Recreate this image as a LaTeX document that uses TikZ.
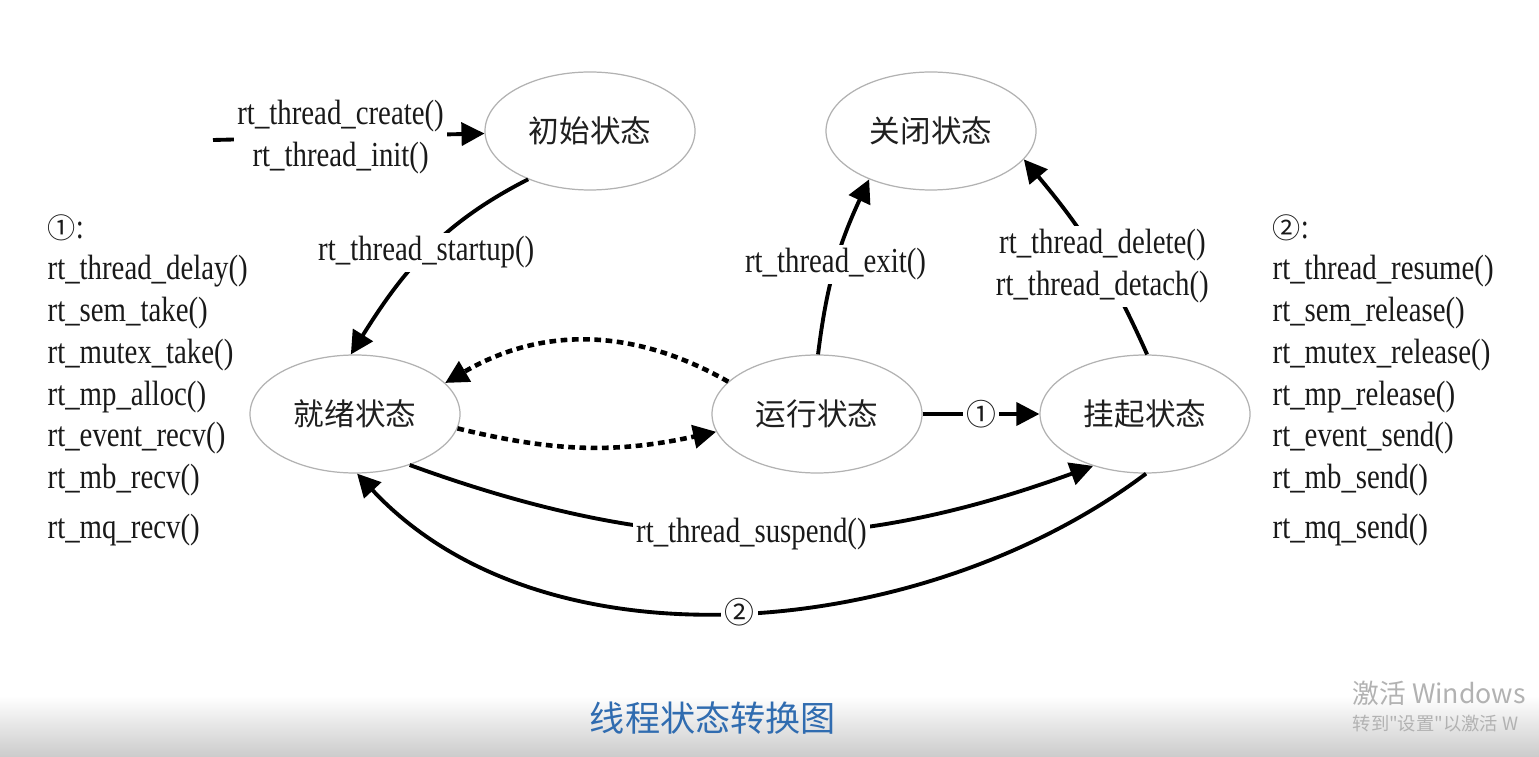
\documentclass[tikz,border=0pt]{standalone}
\usepackage{fontspec}
\setmainfont{Liberation Serif}[FakeStretch=0.82]
\newfontfamily\cjk{Noto Sans CJK SC}
\usetikzlibrary{shapes.geometric,arrows.meta}
\definecolor{titleblue}{RGB}{48,108,176}

\begin{document}
\begin{tikzpicture}[
  state/.style={ellipse, draw=gray!60, line width=0.35pt, minimum width=2.1cm,
    minimum height=1.18cm, inner sep=0pt, text=black!88, font=\cjk\fontsize{8.7}{10}\selectfont},
  arr/.style={-{Triangle[length=2.3mm,width=2.3mm]}, line width=1.1pt},
  dotarr/.style={arr, line width=1.3pt, dash pattern=on 1.9pt off 1.3pt},
  lbl/.style={fill=white, inner sep=1pt, align=center, text=black!90, font=\fontsize{10}{12}\selectfont},
  fn/.style={anchor=west, inner sep=0pt, text=black!90, font=\fontsize{10}{12}\selectfont},
  circnum/.style={font=\cjk\fontsize{8.5}{10}\selectfont}
]
  \useasboundingbox[fill=white] (0,0) rectangle (15.39,7.56);
  \shade[top color=white, bottom color=black!20] (0,0) rectangle (15.39,0.6);

  % states
  \node[state] (init)   at (5.90,6.25) {初始状态};
  \node[state] (closed) at (9.31,6.25) {关闭状态};
  \node[state] (ready)  at (3.55,3.42) {就绪状态};
  \node[state] (run)    at (8.17,3.42) {运行状态};
  \node[state] (susp)   at (11.45,3.42) {挂起状态};

  \coordinate (entry) at (2.13,6.16);

  % transitions
  \draw[arr] (entry) -- node[lbl, pos=0.47] {rt\_thread\_create()\\rt\_thread\_init()} (init);
  \draw[arr] (init.218) to[out=207,in=58] node[lbl] {rt\_thread\_startup()} (ready.94);
  \draw[dotarr] (run.160) to[bend right=30] (ready.19);
  \draw[dotarr] (ready.-8) to[bend right=13] (run.190);
  \draw[arr] (run.89) to[out=83,in=245] node[lbl] {rt\_thread\_exit()} (closed.218);
  \draw[arr] (susp.88) to[out=114,in=310]
    node[lbl, pos=0.42] {rt\_thread\_delete()\\rt\_thread\_detach()} (closed.-17);
  \draw[arr] (run) -- node[lbl, circnum] {①} (susp);
  \draw[arr] (ready.-43) to[out=-20,in=200] node[lbl] {rt\_thread\_suspend()} (susp.225);
  \draw[arr] (susp.-89) to[out=217,in=-47,looseness=0.9] node[lbl, circnum] {②} (ready.-88);

  % suspend / resume calls
  \node[fn] (waithead) at (0.47,5.28) {{\cjk\fontsize{8}{10}\selectfont ①}:};
  \foreach \fn/\y [count=\i] in {rt\_thread\_delay()/4.85, rt\_sem\_take()/4.43,
      rt\_mutex\_take()/4.01, rt\_mp\_alloc()/3.59, rt\_event\_recv()/3.18,
      rt\_mb\_recv()/2.76, rt\_mq\_recv()/2.26}
    \node[fn] (wait\i) at (0.47,\y) {\fn};

  \node[fn] (wakehead) at (12.72,5.28) {{\cjk\fontsize{8}{10}\selectfont ②}:};
  \foreach \fn/\y [count=\i] in {rt\_thread\_resume()/4.85, rt\_sem\_release()/4.43,
      rt\_mutex\_release()/4.01, rt\_mp\_release()/3.59, rt\_event\_send()/3.18,
      rt\_mb\_send()/2.76, rt\_mq\_send()/2.26}
    \node[fn] (wake\i) at (12.72,\y) {\fn};

  % caption and screen overlay
  \node[text=titleblue, font=\cjk\fontsize{10}{12}\selectfont] (title) at (7.13,0.38) {线程状态转换图};
  \node[anchor=west, inner sep=0pt, text=black!30, font=\cjk\fontsize{7.6}{9}\selectfont]
    (wm1) at (13.52,0.63) {激活 Windows};
  \node[anchor=west, inner sep=0pt, text=black!30, font=\cjk\fontsize{5.2}{6}\selectfont]
    (wm2) at (13.52,0.32) {转到"设置"以激活 W};
\end{tikzpicture}
\end{document}
